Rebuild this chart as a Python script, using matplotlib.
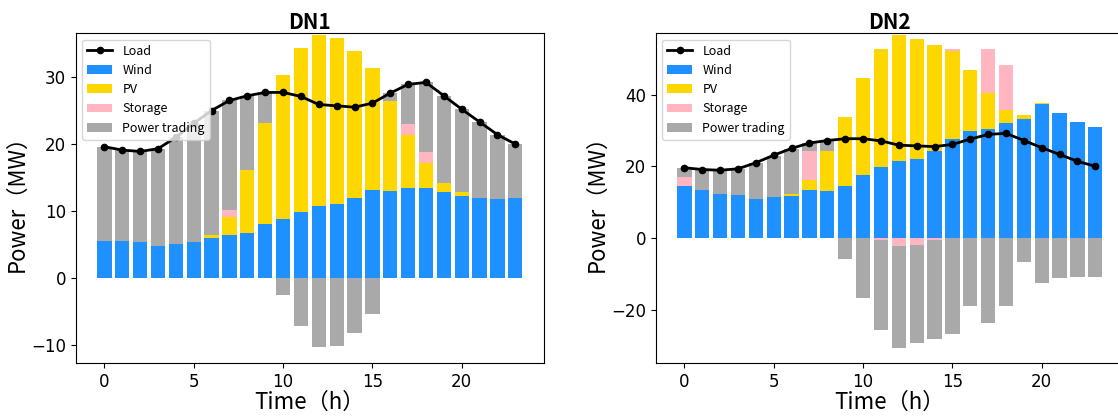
import numpy as np
import matplotlib
matplotlib.use('Agg')
import matplotlib.pyplot as plt

plt.rcParams['font.family'] = ['DejaVu Sans']
cjk = ['Noto Sans CJK SC', 'DejaVu Sans']

hours = list(range(24))

load = [19.6, 19.1, 18.9, 19.3, 21.0, 23.1, 25.0, 26.5, 27.2, 27.7, 27.7, 27.1,
        25.9, 25.7, 25.5, 26.1, 27.6, 28.9, 29.2, 27.2, 25.2, 23.3, 21.4, 20.0]

# DN1
wind1 = [5.6, 5.6, 5.4, 4.8, 5.1, 5.4, 6.0, 6.5, 6.7, 8.0, 8.8, 9.8,
         10.8, 11.1, 12.0, 13.2, 13.0, 13.4, 13.5, 12.8, 12.2, 12.0, 11.8, 12.0]
pv1 = [0, 0, 0, 0, 0, 0, 0.5, 2.6, 9.4, 15.1, 21.5, 24.6,
       25.4, 24.7, 21.9, 18.2, 13.4, 7.9, 3.6, 1.4, 0.6, 0, 0, 0]
storage1 = [0, 0, 0, 0, 0, 0, 0, 1.0, 0, 0, 0, 0,
            0, 0, 0, 0, 0, 1.7, 1.7, 0, 0, 0, 0, 0]
trading1 = [14.0, 13.5, 13.5, 14.5, 15.9, 17.7, 18.5, 16.4, 11.1, 4.6, -2.5, -7.2,
            -10.3, -10.1, -8.2, -5.3, 1.2, 5.9, 10.4, 13.0, 12.4, 11.3, 9.6, 8.0]

# DN2
wind2 = [14.4, 13.5, 12.4, 12.0, 10.8, 11.3, 11.6, 13.4, 13.0, 14.4, 17.6, 19.9,
         21.6, 22.0, 24.3, 27.6, 29.8, 30.5, 32.1, 33.3, 37.4, 35.0, 32.4, 31.0]
pv2 = [0, 0, 0, 0, 0, 0, 0.6, 2.8, 11.3, 19.3, 27.0, 32.8,
       35.0, 33.5, 29.5, 24.5, 17.1, 9.9, 3.7, 0.9, 0.4, 0, 0, 0]
storage2 = [2.7, 0, 0, 0, 0, 0, 0, 8.1, 0, 0, 0, -0.5,
            -2.3, -1.9, -0.7, 0.6, 0, 12.3, 12.4, 0, 0, 0, 0, 0]
trading2 = [2.5, 5.6, 6.5, 7.3, 10.2, 11.7, 12.6, 2.2, 2.9, -5.9, -16.7, -25.1,
            -28.4, -27.5, -27.4, -26.7, -19.0, -23.9, -19.0, -6.8, -12.7, -11.3, -11.0, -11.0]

c_wind = '#1E90FF'
c_pv = '#FFD700'
c_sto = '#FFB6C1'
c_trade = '#A9A9A9'


def draw(ax, title, wind, pv, storage, trading, ylim):
    wind = np.array(wind)
    pv = np.array(pv)
    storage = np.array(storage)
    trading = np.array(trading)
    sto_bottom = np.where(storage > 0, wind + pv, 0)
    tr_bottom = np.where(trading > 0, wind + pv + np.clip(storage, 0, None),
                         np.clip(storage, None, 0))
    ax.plot(hours, load, color='black', marker='o', markersize=4.5, linewidth=2,
            label='Load', zorder=5)
    ax.bar(hours, wind, width=0.8, color=c_wind, label='Wind')
    ax.bar(hours, pv, width=0.8, bottom=wind, color=c_pv, label='PV')
    ax.bar(hours, storage, width=0.8, bottom=sto_bottom, color=c_sto, label='Storage')
    ax.bar(hours, trading, width=0.8, bottom=tr_bottom, color=c_trade, label='Power trading')
    ax.set_ylim(*ylim)
    ax.set_title(title, fontsize=15, fontweight='bold', family=cjk, pad=3)
    ax.set_xlabel('Time（h）', fontsize=16, family=cjk, labelpad=0)
    ax.set_ylabel('Power（MW）', fontsize=16, family=cjk, labelpad=2)
    ax.tick_params(labelsize=12)
    ax.legend(loc='upper left', prop={'family': cjk, 'size': 9})


fig = plt.figure(figsize=(11.18, 4.18), dpi=100)
ax1 = fig.add_axes([0.068, 0.131, 0.4183, 0.789])
ax2 = fig.add_axes([0.5868, 0.131, 0.4183, 0.789])

draw(ax1, 'DN1', wind1, pv1, storage1, trading1, (-12.7, 36.5))
draw(ax2, 'DN2', wind2, pv2, storage2, trading2, (-35.0, 57.1))

fig.savefig('out.png', dpi=100)
